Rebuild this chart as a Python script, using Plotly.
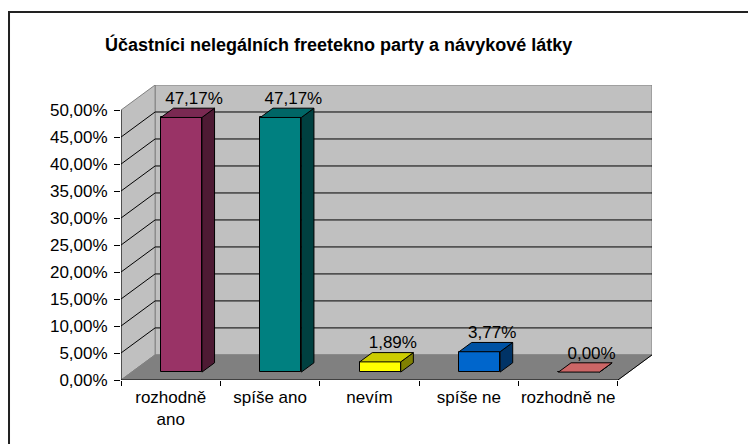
import plotly.graph_objects as go

# data
categories = ["rozhodně<br>ano", "spíše ano", "nevím", "spíše ne", "rozhodně ne"]
values = [47.17, 47.17, 1.89, 3.77, 0.00]
y_ticks = [0, 5, 10, 15, 20, 25, 30, 35, 40, 45, 50]

front_colors = ["#993366", "#008080", "#ffff00", "#0066cc", "#ff8080"]
top_colors = ["#7a2952", "#006666", "#cccc00", "#0052a3", "#cc6666"]
side_colors = ["#4d1a33", "#004040", "#808000", "#003366", "#804040"]

# fake 3d depth (in axis units)
DX = 0.343
DY = 4.65
F0 = 0.315   # where bars start in depth
FD = 0.37    # bar depth
BW = 0.413   # bar width
YMAX = 50

FONT = "Liberation Sans, Arial, sans-serif"


def fmt(v):
    return f"{v:.2f}".replace(".", ",") + "%"


fig = go.Figure()

# front faces
xc = [i + 0.5 + F0 * DX for i in range(len(values))]
fig.add_trace(go.Bar(
    x=xc, y=values, base=[F0 * DY] * len(values), width=BW,
    marker=dict(color=front_colors, line=dict(color="black", width=1)),
    showlegend=False, hoverinfo="skip"
))

# side and top faces
for i, v in enumerate(values):
    xl = xc[i] - BW / 2
    xr = xc[i] + BW / 2
    b = F0 * DY
    t = b + v
    ddx = FD * DX
    ddy = FD * DY
    fig.add_trace(go.Scatter(
        x=[xr, xr + ddx, xr + ddx, xr, xr], y=[b, b + ddy, t + ddy, t, b],
        fill="toself", fillcolor=side_colors[i], mode="lines",
        line=dict(color="black", width=1), showlegend=False, hoverinfo="skip"
    ))
    fig.add_trace(go.Scatter(
        x=[xl, xr, xr + ddx, xl + ddx, xl], y=[t, t, t + ddy, t + ddy, t],
        fill="toself", fillcolor=top_colors[i], mode="lines",
        line=dict(color="black", width=1), showlegend=False, hoverinfo="skip"
    ))

# value labels
fig.add_trace(go.Scatter(
    x=[c + FD * DX for c in xc],
    y=[v + (F0 + FD) * DY for v in values],
    mode="text", text=[fmt(v) for v in values], textposition="top center",
    textfont=dict(family=FONT, size=17, color="black"),
    showlegend=False, hoverinfo="skip"
))

n = len(values)
shapes = []
# back wall
shapes.append(dict(type="rect", xref="x", yref="y", x0=DX, x1=n + DX, y0=DY, y1=YMAX + DY,
                   fillcolor="#c0c0c0", line=dict(color="#808080", width=1), layer="below"))
# side wall
shapes.append(dict(type="path", xref="x", yref="y",
                   path=f"M0,0 L{DX},{DY} L{DX},{YMAX + DY} L0,{YMAX} Z",
                   fillcolor="#c0c0c0", line=dict(color="#808080", width=1), layer="below"))
# floor
shapes.append(dict(type="path", xref="x", yref="y",
                   path=f"M0,0 L{n},0 L{n + DX},{DY} L{DX},{DY} Z",
                   fillcolor="#808080", line=dict(color="#808080", width=1), layer="below"))
# gridlines
for v in y_ticks[1:-1]:
    shapes.append(dict(type="line", xref="x", yref="y", x0=0, y0=v, x1=DX, y1=v + DY,
                       line=dict(color="black", width=1), layer="below"))
    shapes.append(dict(type="line", xref="x", yref="y", x0=DX, y0=v + DY, x1=n + DX, y1=v + DY,
                       line=dict(color="black", width=1), layer="below"))
# axis lines
shapes.append(dict(type="line", xref="x", yref="y", x0=0, y0=0, x1=0, y1=YMAX,
                   line=dict(color="black", width=1)))
shapes.append(dict(type="line", xref="x", yref="y", x0=0, y0=0, x1=n, y1=0,
                   line=dict(color="black", width=1)))
shapes.append(dict(type="line", xref="x", yref="y", x0=n, y0=0, x1=n + DX, y1=DY,
                   line=dict(color="black", width=1)))
# chart frame
shapes.append(dict(type="rect", xref="paper", yref="paper", x0=-0.2109, y0=-0.25, x1=1.21, y1=1.2475,
                   line=dict(color="#222222", width=2), fillcolor="rgba(0,0,0,0)"))

# page body has an 8px margin, so the figure is 8px smaller
fig.update_layout(
    width=748, height=436,
    margin=dict(l=113, r=104, t=77, b=64),
    paper_bgcolor="white", plot_bgcolor="white",
    font=dict(family=FONT, size=17, color="black"),
    shapes=shapes,
    bargap=0,
    annotations=[dict(
        text="<b>Účastníci nelegálních freetekno party a návykové látky</b>",
        xref="paper", yref="paper", x=0.4087, y=1.1356,
        xanchor="center", yanchor="middle", showarrow=False,
        font=dict(family=FONT, size=18, color="black")
    )],
    xaxis=dict(
        range=[0, n + DX], showgrid=False, zeroline=False, showline=False,
        tickmode="array", tickvals=[i + 0.5 for i in range(n)], ticktext=categories,
        ticks="", tickfont=dict(size=17), ticklabelstandoff=5,
        minor=dict(tickmode="linear", tick0=0, dtick=1, ticks="outside", ticklen=5,
                   tickcolor="black", tickwidth=1, showgrid=False),
    ),
    yaxis=dict(
        range=[0, YMAX + DY], showgrid=False, zeroline=False, showline=False,
        tickmode="array", tickvals=y_ticks, ticktext=[fmt(v) for v in y_ticks],
        ticks="outside", ticklen=6, tickcolor="black", tickwidth=1,
        tickfont=dict(size=17), ticklabelstandoff=3,
    ),
)

fig.write_html("out.html")
